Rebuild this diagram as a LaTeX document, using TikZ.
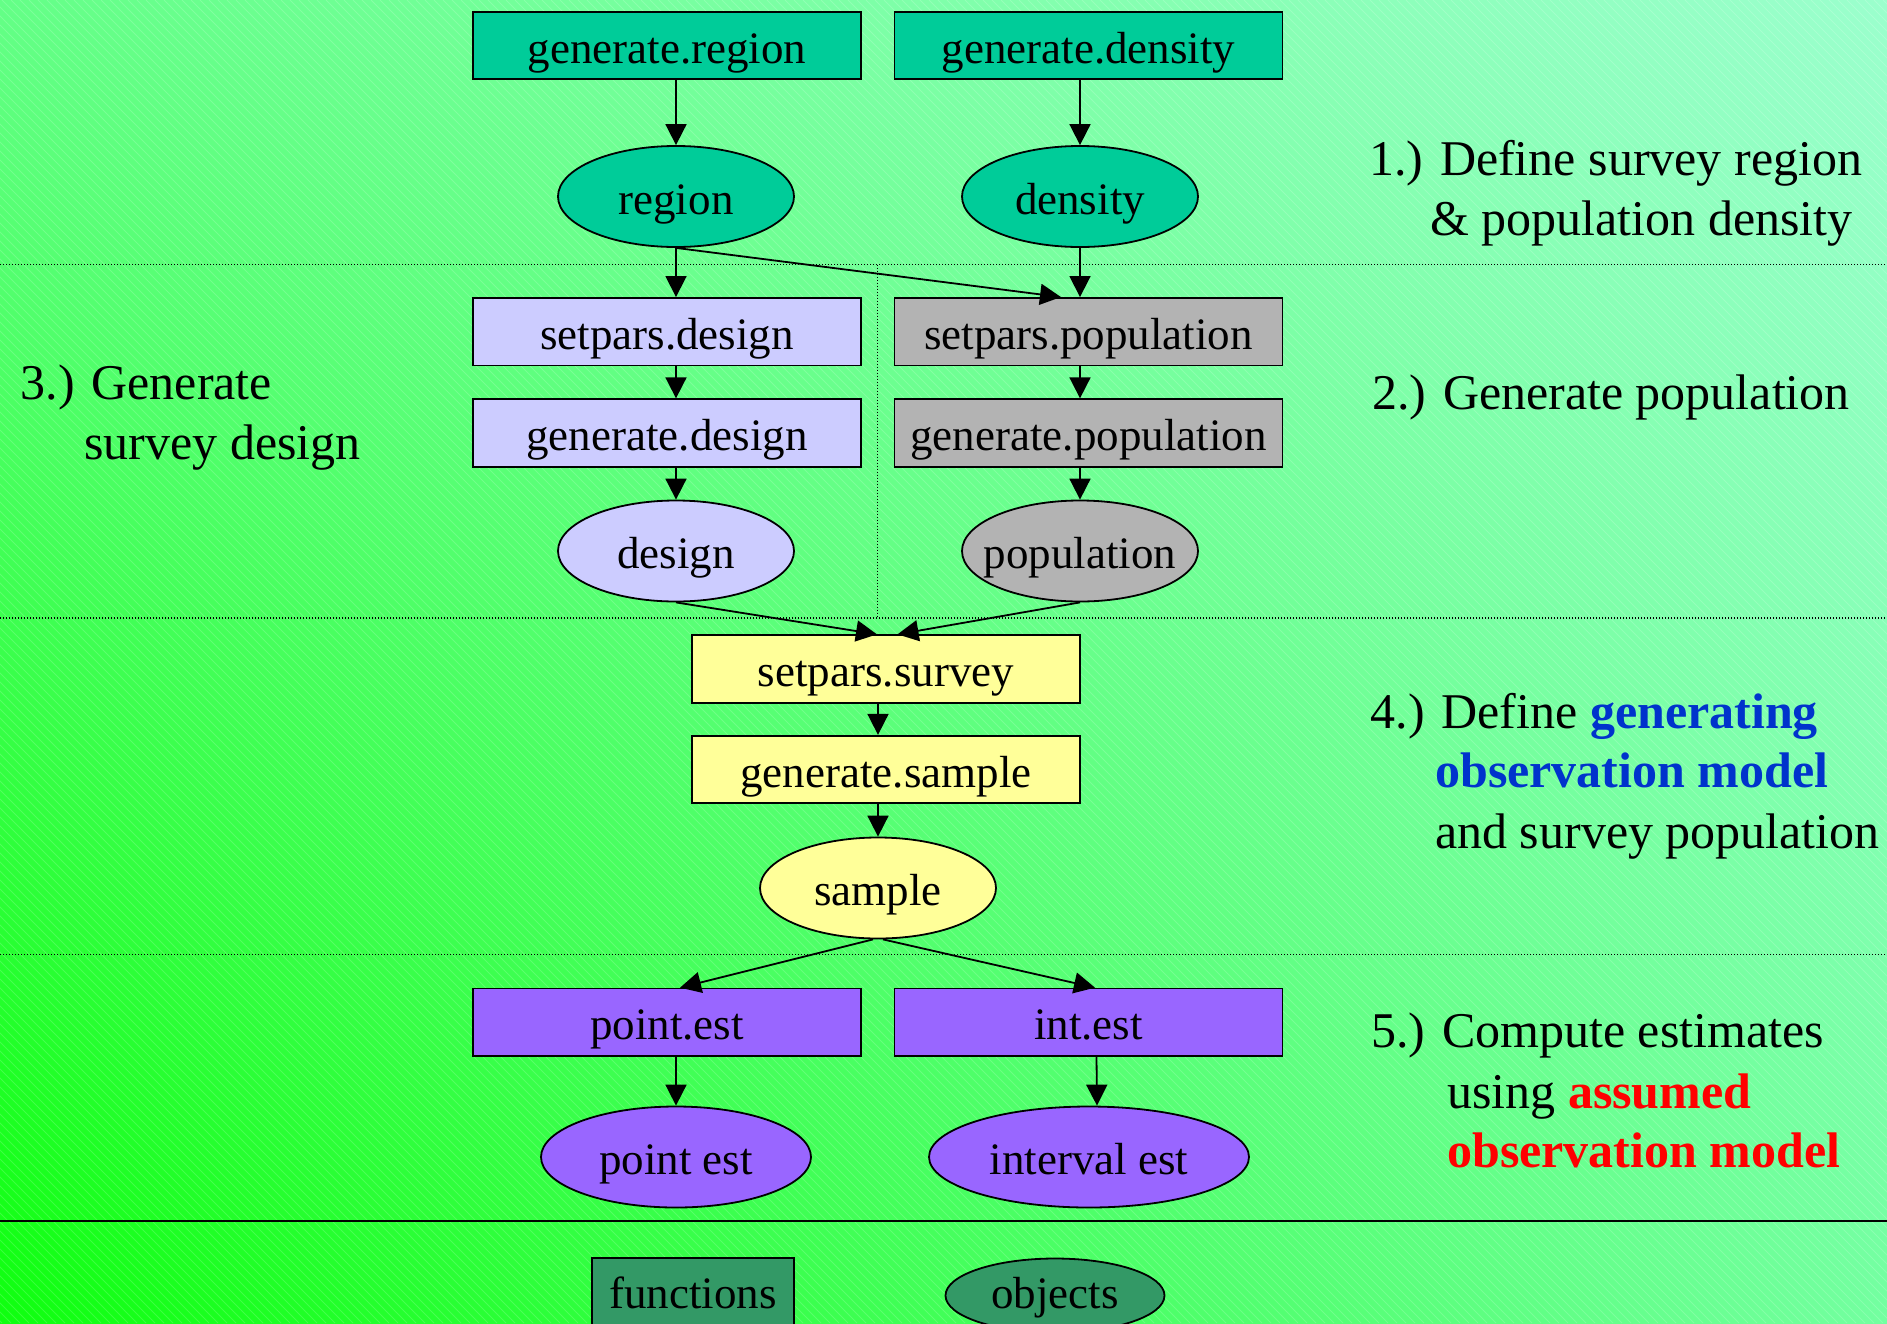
\documentclass[tikz,border=0pt]{standalone}
\usepackage{fontspec}
\setmainfont{Liberation Serif}
\usetikzlibrary{arrows.meta,shapes.geometric,calc,shadings}

% background gradient corners
\definecolor{bgTL}{RGB}{100,255,135}
\definecolor{bgTR}{RGB}{155,255,205}
\definecolor{bgBL}{RGB}{15,255,15}
\definecolor{bgBR}{RGB}{115,255,160}
% node fills
\definecolor{cTeal}{RGB}{0,204,153}
\definecolor{cLav}{RGB}{204,204,255}
\definecolor{cGrey}{RGB}{179,179,179}
\definecolor{cYellow}{RGB}{255,255,153}
\definecolor{cPurple}{RGB}{153,102,255}
\definecolor{cLegend}{RGB}{51,153,102}
% emphasis in the step notes
\definecolor{cBlue}{RGB}{0,51,204}
\definecolor{cRed}{RGB}{255,0,0}

\newcommand\fnfont{\fontsize{45}{54}\selectfont}
\newcommand\lblfont{\fontsize{50}{60}\selectfont}

\begin{document}
\begin{tikzpicture}[x=1pt,y=-1pt,
  fn/.style={rectangle, draw, line width=1.8pt, minimum width=388pt,
    minimum height=67.5pt, inner sep=0pt, text height=35pt, text depth=0pt,
    font=\fnfont},
  obj/.style={ellipse, draw, line width=1.8pt, minimum width=236pt,
    minimum height=101pt, inner xsep=-20pt, inner ysep=0pt, text height=35pt,
    text depth=0pt, font=\fnfont},
  link/.style={line width=1.8pt, -{Triangle[length=21pt,width=21pt]}},
  sep/.style={line width=1.2pt, dash pattern=on 1.2pt off 1.8pt},
  note/.style={anchor=base west, inner sep=0pt, font=\lblfont}]

\useasboundingbox (0,0) rectangle (1887,1323);

% background with fine diagonal hatching
\shade[upper left=bgTL, upper right=bgTR, lower left=bgBL, lower right=bgBR]
  (0,0) rectangle (1887,1323);
\begin{scope}
  \clip (0,0) rectangle (1887,1323);
  \foreach \h in {-1330,-1321,...,1887}
    \draw[white, opacity=0.16, line width=0.8pt] (\h,0) -- ++(1323,1323);
\end{scope}

% section separators
\draw[sep] (0,264.5) -- (1887,264.5);
\draw[sep] (0,618) -- (1887,618);
\draw[sep] (0,954.7) -- (1887,954.7);
\draw[sep] (877.7,264.5) -- (877.7,618);
\draw[line width=2pt] (0,1221) -- (1887,1221);

% 1) region and density
\node[fn, fill=cTeal] (genregion) at (667,45.5) {generate.region};
\node[fn, fill=cTeal] (gendensity) at (1088.5,45.5) {generate.density};
\node[obj, fill=cTeal] (region) at (676,196.5) {region};
\node[obj, fill=cTeal] (density) at (1080,196.5) {density};

% 2) population, 3) design
\node[fn, fill=cLav] (setdesign) at (667,331.7) {setpars.design};
\node[fn, fill=cLav] (gendesign) at (667,433) {generate.design};
\node[obj, fill=cLav] (design) at (676,551) {design};
\node[fn, fill=cGrey] (setpop) at (1088.5,331.7) {setpars.population};
\node[fn, fill=cGrey] (genpop) at (1088.5,433) {generate.population};
\node[obj, fill=cGrey] (population) at (1080,551) {population};

% 4) survey
\node[fn, fill=cYellow] (setsurvey) at (886,669) {setpars.survey};
\node[fn, fill=cYellow] (gensample) at (886,769.5) {generate.sample};
\node[obj, fill=cYellow] (sample) at (878,888) {sample};

% 5) estimates
\node[fn, fill=cPurple] (pointfn) at (667,1022.3) {point.est};
\node[fn, fill=cPurple] (intfn) at (1088.5,1022.3) {int.est};
\node[obj, fill=cPurple, minimum width=270pt] (pointest) at (676,1157) {point est};
\node[obj, fill=cPurple, minimum width=320pt] (intervalest) at (1089,1157) {interval est};

% legend
\node[fn, fill=cLegend, minimum width=202pt, minimum height=74pt,
  text height=26pt] (functions) at (693,1295) {functions};
\node[obj, fill=cLegend, minimum width=219pt, minimum height=74pt,
  text height=26pt] (objects) at (1055,1295.5) {objects};

% connectors
\draw[link] (genregion.south -| region.north) -- (region.north);
\draw[link] (gendensity.south -| density.north) -- (density.north);
\draw[link] (region.south) -- (setdesign.north -| region.south);
\draw[link] (region.south) -- ([xshift=-27.5]setpop.north);
\draw[link] (density.south) -- (setpop.north -| density.south);
\draw[link] (setdesign.south -| design.north) -- (gendesign.north -| design.north);
\draw[link] (gendesign.south -| design.north) -- (design.north);
\draw[link] (setpop.south -| population.north) -- (genpop.north -| population.north);
\draw[link] (genpop.south -| population.north) -- (population.north);
\draw[link] (design.south) -- ([xshift=-9]setsurvey.north);
\draw[link] (population.south) -- ([xshift=11.5]setsurvey.north);
\draw[link] (setsurvey.south -| sample.north) -- (gensample.north -| sample.north);
\draw[link] (gensample.south -| sample.north) -- (sample.north);
\draw[link] ([xshift=-5]sample.south) -- ([xshift=13]pointfn.north);
\draw[link] ([xshift=5]sample.south) -- ([xshift=6.5]intfn.north);
\draw[link] (pointfn.south -| pointest.north) -- (pointest.north);
\draw[link] ([xshift=8]intfn.south) -- ([xshift=8]intervalest.north);

% step notes
\node[note] (n1a) at (1369,175) {1.) Define survey region};
\node[note] (n1b) at (1430,235) {\& population density};
\node[note] (n2) at (1372,409.5) {2.) Generate population};
\node[note] (n3a) at (20.5,399) {3.) Generate};
\node[note] (n3b) at (84,459) {survey design};
\node[note] (n4a) at (1370.5,728) {4.) Define \textcolor{cBlue}{\bfseries generating}};
\node[note] (n4b) at (1435,787.5) {\textcolor{cBlue}{\bfseries observation model}};
\node[note] (n4c) at (1435,848) {and survey population};
\node[note] (n5a) at (1371,1047.5) {5.) Compute estimates};
\node[note] (n5b) at (1447,1108) {using \textcolor{cRed}{\bfseries assumed}};
\node[note] (n5c) at (1447,1167.5) {\textcolor{cRed}{\bfseries observation model}};
\end{tikzpicture}
\end{document}
